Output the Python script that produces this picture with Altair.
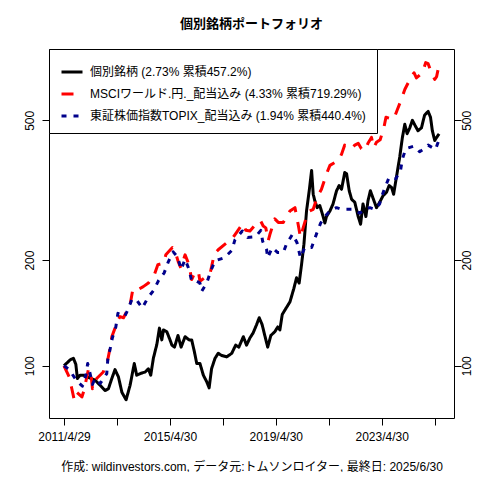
import altair as alt
import pandas as pd

FONT = "Liberation Sans, Noto Sans CJK JP"
TITLE = "個別銘柄ポートフォリオ"
CAPTION = "作成: wildinvestors.com, データ元:トムソンロイター, 最終日: 2025/6/30"

NAMES = [
    "個別銘柄 (2.73% 累積457.2%)",
    "MSCIワールド.円._配当込み (4.33% 累積719.29%)",
    "東証株価指数TOPIX_配当込み (1.94% 累積440.4%)",
]
COLORS = ["#000000", "#FF0000", "#00008B"]
DASHES = [[1, 0], [12, 10], [5, 7]]

# decimal years and index values (start = 100)
stock_t = [2011.325, 2011.56, 2011.68, 2011.77, 2011.83, 2011.93, 2012.06, 2012.50, 2012.69, 2012.88,
           2013.00, 2013.13, 2013.25, 2013.38, 2013.51, 2013.67, 2013.82, 2013.98, 2014.07, 2014.20,
           2014.39, 2014.51, 2014.60, 2014.70, 2014.83, 2014.93, 2015.02, 2015.08, 2015.21, 2015.33,
           2015.40, 2015.50, 2015.63, 2015.75, 2015.90, 2016.05, 2016.15, 2016.25, 2016.34, 2016.46,
           2016.59, 2016.72, 2016.81, 2016.90, 2017.03, 2017.15, 2017.28, 2017.47, 2017.66, 2017.81,
           2017.93, 2018.10, 2018.22, 2018.35, 2018.47, 2018.60, 2018.70, 2018.81, 2018.92, 2019.02,
           2019.14, 2019.29, 2019.40, 2019.48, 2019.57, 2019.67, 2019.86, 2020.01, 2020.11, 2020.21,
           2020.30, 2020.39, 2020.49, 2020.59, 2020.68, 2020.74, 2020.80, 2020.89, 2020.99, 2021.09,
           2021.18, 2021.24, 2021.37, 2021.49, 2021.62, 2021.72, 2021.81, 2021.93, 2022.00, 2022.10,
           2022.19, 2022.31, 2022.44, 2022.53, 2022.62, 2022.73, 2022.81, 2022.90, 2023.00, 2023.13,
           2023.25, 2023.38, 2023.51, 2023.61, 2023.70, 2023.78, 2023.88, 2024.01, 2024.11, 2024.20,
           2024.29, 2024.39, 2024.49, 2024.58, 2024.70, 2024.83, 2024.95, 2025.08, 2025.17, 2025.24,
           2025.33, 2025.40, 2025.495]
stock_v = [100, 104, 105, 101, 92, 94, 94, 91, 88, 85,
           86, 92, 97.5, 93, 84, 80, 88, 101.5, 94, 95,
           96, 98, 94, 105, 115, 128, 118.5, 126.5, 125, 118.5,
           114.5, 113, 122, 113, 121, 118.5, 118.5, 109.7, 101.5, 101.5,
           94, 90, 86.5, 98, 105, 108.5, 107, 106, 108.5, 114.5,
           113, 121, 114.5, 120, 124, 131, 137, 131, 121, 113,
           122, 125, 129, 126.5, 140, 144, 152, 166, 178, 172,
           194, 222, 276, 315, 360, 308, 295, 282, 286, 270,
           255, 266, 276, 289, 315, 326, 318, 355, 352, 315,
           298, 292, 266, 253, 289, 266, 295, 315, 300, 282,
           292, 305, 312, 326, 322, 308, 343, 393, 447, 487,
           458, 476, 500, 485, 467, 476, 517, 530, 510, 467,
           438, 447, 457.2]

msci_t = [2011.325, 2011.43, 2011.52, 2011.62, 2011.71, 2011.81, 2012.00, 2012.10, 2012.15, 2012.25,
          2012.35, 2012.40, 2012.47, 2012.56, 2012.81, 2012.88, 2012.98, 2013.07, 2013.13, 2013.25,
          2013.34, 2013.44, 2013.57, 2013.70, 2013.82, 2013.91, 2014.01, 2014.13, 2014.32, 2014.51,
          2014.74, 2014.87, 2015.10, 2015.17, 2015.42, 2015.52, 2015.64, 2015.74, 2015.90, 2016.00,
          2016.08, 2016.15, 2016.27, 2016.40, 2016.46, 2016.72, 2016.84, 2017.00, 2017.15, 2017.47,
          2017.66, 2017.78, 2018.01, 2018.10, 2018.19, 2018.35, 2018.51, 2018.60, 2018.76, 2018.85,
          2018.95, 2019.04, 2019.10, 2019.29, 2019.42, 2019.61, 2019.86, 2020.05, 2020.17, 2020.26,
          2020.36, 2020.49, 2020.61, 2020.74, 2020.89, 2021.05, 2021.24, 2021.37, 2021.68, 2021.81,
          2021.93, 2022.06, 2022.19, 2022.31, 2022.44, 2022.56, 2022.69, 2022.81, 2022.94, 2023.03,
          2023.13, 2023.27, 2023.41, 2023.49, 2023.78, 2023.91, 2024.07, 2024.20, 2024.45, 2024.55,
          2024.64, 2024.87, 2024.99, 2025.08, 2025.20, 2025.33, 2025.40, 2025.495]
msci_v = [100, 96, 93, 86, 80, 84, 81.5, 86, 90, 98,
          94, 86, 88, 92, 96, 100, 104, 113, 121, 128,
          134, 138, 137, 143, 149, 163, 161, 165, 168, 172,
          182, 194, 196, 207, 217, 212, 198, 190, 207, 198,
          188, 176, 184, 186, 174, 180, 182, 208, 214, 224,
          229, 236, 250, 254, 243, 242, 250, 257, 258, 250,
          247, 227, 236, 262, 256, 256, 276, 282, 253, 232,
          247, 266, 276, 279, 302, 318, 352, 372, 384, 400,
          425, 420, 415, 425, 430, 415, 410, 430, 447, 418,
          433, 440, 476, 510, 503, 534, 573, 612, 666, 683,
          660, 683, 730, 725, 683, 654, 666, 719.29]

topix_t = [2011.325, 2011.49, 2011.62, 2011.81, 2012.02, 2012.15, 2012.22, 2012.31, 2012.40, 2012.50,
           2012.69, 2012.94, 2012.98, 2013.07, 2013.15, 2013.28, 2013.36, 2013.61, 2013.73, 2013.88,
           2014.04, 2014.28, 2014.49, 2014.71, 2014.90, 2015.11, 2015.27, 2015.45, 2015.62, 2015.75,
           2015.90, 2016.05, 2016.15, 2016.34, 2016.46, 2016.53, 2016.72, 2016.88, 2017.03, 2017.38,
           2017.66, 2017.78, 2018.06, 2018.26, 2018.56, 2018.76, 2018.83, 2018.98, 2019.02, 2019.19,
           2019.40, 2019.61, 2019.73, 2019.96, 2020.13, 2020.26, 2020.42, 2020.68, 2020.86, 2021.02,
           2021.18, 2021.37, 2021.62, 2021.81, 2022.00, 2022.25, 2022.50, 2022.69, 2022.88, 2023.06,
           2023.25, 2023.32, 2023.44, 2023.61, 2023.86, 2024.04, 2024.11, 2024.24, 2024.54, 2024.76,
           2024.89, 2025.08, 2025.36, 2025.495]
topix_v = [100, 98, 95, 90.5, 87.5, 94, 101.5, 95, 88.5, 92,
           89, 95, 104, 112, 120, 129, 141, 138, 144, 154,
           155, 146, 156, 164, 175, 184, 198, 211, 204, 188,
           201, 188, 174, 174, 172, 163, 172, 187, 199, 203,
           213, 228, 242, 232, 233, 243, 226, 214, 203, 217,
           210, 210, 222, 237, 224, 203, 217, 217, 237, 255,
           266, 276, 282, 279, 279, 279, 272, 279, 282, 279,
           289, 302, 320, 344, 341, 360, 388, 415, 422, 407,
           413, 425, 413, 440.4]

TICK_DATES = [(2011, 4, 29), (2013, 4, 30), (2015, 4, 30), (2017, 4, 30),
              (2019, 4, 30), (2021, 4, 30), (2023, 4, 30), (2025, 4, 30)]
Y_TICKS = [100, 200, 500]


def to_df(ts, vs, name):
    dates = [(pd.Timestamp(year=int(t), month=1, day=1)
              + pd.Timedelta(days=(t - int(t)) * 365.25)).strftime("%Y-%m-%d") for t in ts]
    return pd.DataFrame({"date": dates, "value": vs, "series": name})


dfs = [to_df(stock_t, stock_v, NAMES[0]),
       to_df(msci_t, msci_v, NAMES[1]),
       to_df(topix_t, topix_v, NAMES[2])]

x_scale = alt.Scale(type="utc", nice=False,
                    domain=[alt.DateTime(year=2010, month=10, date=4, utc=True),
                            alt.DateTime(year=2026, month=1, date=22, utc=True)])
y_scale = alt.Scale(type="log", domain=[71, 798], nice=False, zero=False)

x_enc = alt.X("date:T", scale=x_scale,
              axis=alt.Axis(values=[alt.DateTime(year=y, month=m, date=d, utc=True) for y, m, d in TICK_DATES],
                            labelExpr="utcyear(datum.value) % 4 == 3 ? utcyear(datum.value) + '/' + (utcmonth(datum.value) + 1) + '/' + utcdate(datum.value) : ''",
                            title=CAPTION, titlePadding=19, labelPadding=6, labelFlush=False,
                            labelOverlap=False))

legend = alt.Legend(title=None, orient="none", legendX=0, legendY=0,
                    strokeColor="black", fillColor="white", padding=11,
                    labelFont=FONT, labelFontSize=12, labelColor="black",
                    symbolType="stroke", symbolSize=441, symbolStrokeWidth=3,
                    rowPadding=4, labelOffset=6, cornerRadius=0, labelLimit=400)

color = alt.Color("series:N", scale=alt.Scale(domain=NAMES, range=COLORS), legend=legend)
dash = alt.StrokeDash("series:N", scale=alt.Scale(domain=NAMES, range=DASHES), legend=legend)

y_left = alt.Y("value:Q", scale=y_scale,
               axis=alt.Axis(values=Y_TICKS, orient="left", title=None, format="d",
                             labelAngle=270, labelAlign="center", labelBaseline="bottom",
                             labelPadding=6))

lines = alt.layer(*[
    alt.Chart(df).mark_line(strokeWidth=3, strokeCap="butt", strokeJoin="round").encode(
        x=x_enc, y=y_left, color=color, strokeDash=dash)
    for df in dfs
])

right = alt.Chart(dfs[0]).mark_line(opacity=0).encode(
    x=x_enc,
    y=alt.Y("value:Q", scale=y_scale,
            axis=alt.Axis(values=Y_TICKS, orient="right", title=None, format="d",
                          labelAngle=270, labelAlign="center", labelBaseline="top",
                          labelPadding=0)))

chart = alt.layer(lines, right).resolve_scale(y="independent").properties(
    width=405, height=369,
    autosize=alt.AutoSizeParams(type="none"),
    padding={"left": 41, "top": 41, "right": 18, "bottom": 54},
    title=alt.TitleParams(TITLE, font="Noto Sans CJK JP", fontSize=13, fontWeight="bold",
                          anchor="middle", offset=18, color="black"),
).configure_view(stroke="black", strokeWidth=1).configure_axis(
    grid=False, domain=False, tickColor="black", tickSize=7, tickWidth=1,
    labelColor="black", labelFontSize=12, labelFont=FONT,
    titleFont=FONT, titleFontSize=12, titleFontWeight="normal", titleColor="black",
)

chart.save("out.html", embed_options={"renderer": "svg", "actions": False})
